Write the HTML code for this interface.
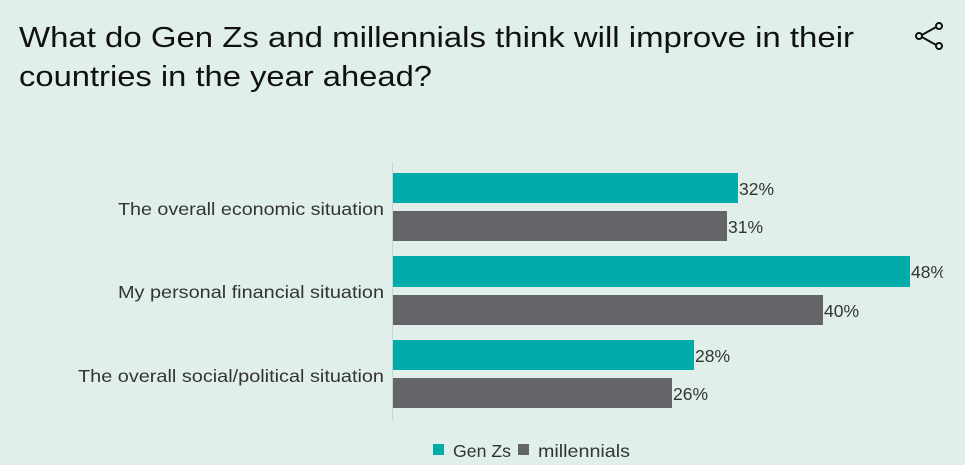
<!DOCTYPE html>
<html><head><style>
body{margin:0;width:965px;height:465px;background:#e1efea;font-family:"Liberation Sans",sans-serif;overflow:hidden;position:relative}
</style></head><body>
<svg width="965" height="465" style="position:absolute;left:0;top:0">
<g font-size="29" fill="#111">
<text x="19" y="47" textLength="835" lengthAdjust="spacingAndGlyphs">What do Gen Zs and millennials think will improve in their</text>
<text x="19" y="86" textLength="413" lengthAdjust="spacingAndGlyphs">countries in the year ahead?</text>
</g>
<g stroke="#111" stroke-width="2" fill="#e1efea">
<line x1="920" y1="36" x2="938" y2="26"/><line x1="920" y1="36" x2="938" y2="46"/>
<circle cx="919" cy="36" r="3"/><circle cx="939" cy="26" r="3"/><circle cx="939" cy="46" r="3"/>
</g>
<line x1="392.5" y1="162" x2="392.5" y2="420" stroke="#c8d4d0"/>
<g font-size="17.5" fill="#333">
<rect x="393" y="173" width="345" height="30" fill="#00abaa"/>
<rect x="393" y="211" width="334" height="30" fill="#636569"/>
<rect x="393" y="256" width="517" height="31" fill="#00abaa"/>
<rect x="393" y="295" width="430" height="30" fill="#636569"/>
<rect x="393" y="340" width="301" height="30" fill="#00abaa"/>
<rect x="393" y="378" width="279" height="30" fill="#636569"/>
<text x="739" y="195">32%</text>
<text x="728" y="233">31%</text>
<text x="911" y="278">48%</text>
<text x="824" y="317">40%</text>
<text x="695" y="362">28%</text>
<text x="673" y="400">26%</text>
<g text-anchor="end" fill="#333">
<text x="384" y="215" textLength="266" lengthAdjust="spacingAndGlyphs">The overall economic situation</text>
<text x="384" y="298" textLength="266" lengthAdjust="spacingAndGlyphs">My personal financial situation</text>
<text x="384" y="382" textLength="306" lengthAdjust="spacingAndGlyphs">The overall social/political situation</text>
</g>
<rect x="433" y="444" width="11" height="11" fill="#00abaa"/>
<text x="453" y="457" textLength="58" lengthAdjust="spacingAndGlyphs">Gen Zs</text>
<rect x="518" y="444" width="11" height="11" fill="#636569"/>
<text x="538" y="457" textLength="92" lengthAdjust="spacingAndGlyphs">millennials</text>
</g>
</svg>
<div style="position:absolute;left:943px;top:250px;width:30px;height:60px;background:#e1efea"></div>
</body></html>
